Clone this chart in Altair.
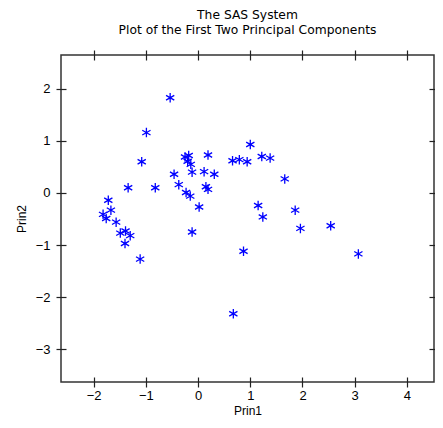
import altair as alt
import pandas as pd

prin1 = [-0.535, -0.99, -1.08, -1.34, -0.82, -1.72, -1.67, -1.82, -1.76, -1.57,
         -1.49, -1.39, -1.30, -1.40, -1.11, -0.46, -0.37, -0.23, -0.15, -0.25,
         -0.18, -0.20, -0.14, -0.115, 0.115, 0.19, 0.31, 0.15, 0.19, 0.02,
         -0.115, 1.00, 0.66, 0.79, 0.94, 1.22, 1.38, 1.66, 1.15, 1.24,
         1.86, 1.96, 2.54, 3.07, 0.87, 0.675]
prin2 = [1.83, 1.16, 0.60, 0.10, 0.10, -0.14, -0.33, -0.41, -0.49, -0.56,
         -0.77, -0.73, -0.82, -0.97, -1.27, 0.36, 0.16, 0.01, -0.06, 0.69,
         0.72, 0.61, 0.55, 0.40, 0.41, 0.73, 0.36, 0.12, 0.07, -0.27,
         -0.75, 0.93, 0.62, 0.64, 0.60, 0.70, 0.67, 0.27, -0.24, -0.46,
         -0.33, -0.68, -0.63, -1.17, -1.12, -2.32]
x_ticks = [-2, -1, 0, 1, 2, 3, 4]
y_ticks = [-3, -2, -1, 0, 1, 2]
title_lines = ["The SAS System", "Plot of the First Two Principal Components"]

df = pd.DataFrame({"Prin1": prin1, "Prin2": prin2})

FONT = "Liberation Sans"
x_dom = [-2.626, 4.519]
y_dom = [-3.63, 2.65]
star = "M0,-1L0,1M-0.87,-0.5L0.87,0.5M-0.87,0.5L0.87,-0.5"

common = dict(offset=-5, tickSize=10, domain=False, grid=False, tickColor="#222",
              tickWidth=1.2)

main = alt.Chart(df).mark_point(shape=star, filled=False, color="#0000ff",
                                strokeWidth=1.3, size=90, opacity=1).encode(
    x=alt.X("Prin1:Q", scale=alt.Scale(domain=x_dom, nice=False, zero=False),
            axis=alt.Axis(orient="bottom", values=x_ticks, labelPadding=2,
                          titlePadding=3, format="d", **common)),
    y=alt.Y("Prin2:Q", scale=alt.Scale(domain=y_dom, nice=False, zero=False),
            axis=alt.Axis(orient="left", values=y_ticks, labelPadding=6,
                          titlePadding=7, format="d", **common)),
)

frame = alt.Chart(df).mark_point(opacity=0).encode(
    x=alt.X("Prin1:Q", scale=alt.Scale(domain=x_dom, nice=False, zero=False),
            axis=alt.Axis(orient="top", values=x_ticks, labels=False, title=None, **common)),
    y=alt.Y("Prin2:Q", scale=alt.Scale(domain=y_dom, nice=False, zero=False),
            axis=alt.Axis(orient="right", values=y_ticks, labels=False, title=None, **common)),
)

chart = alt.layer(main, frame).properties(
    width=373, height=327,
    title=alt.TitleParams(text=title_lines, fontSize=12.3, fontWeight="normal",
                          font="DejaVu Sans", anchor="middle", offset=13, color="black",
                          lineHeight=15),
    autosize=alt.AutoSizeParams(type="none"),
    padding={"left": 53, "top": 47, "right": 1, "bottom": 34},
).configure_view(stroke="#333", strokeWidth=1.5).configure_axis(
    labelFont=FONT, titleFont=FONT, labelFontSize=13, titleFontSize=12,
    labelColor="black", titleColor="black", titleFontWeight="normal",
)

chart.save("out.html", embed_options={"renderer": "svg", "actions": False})
